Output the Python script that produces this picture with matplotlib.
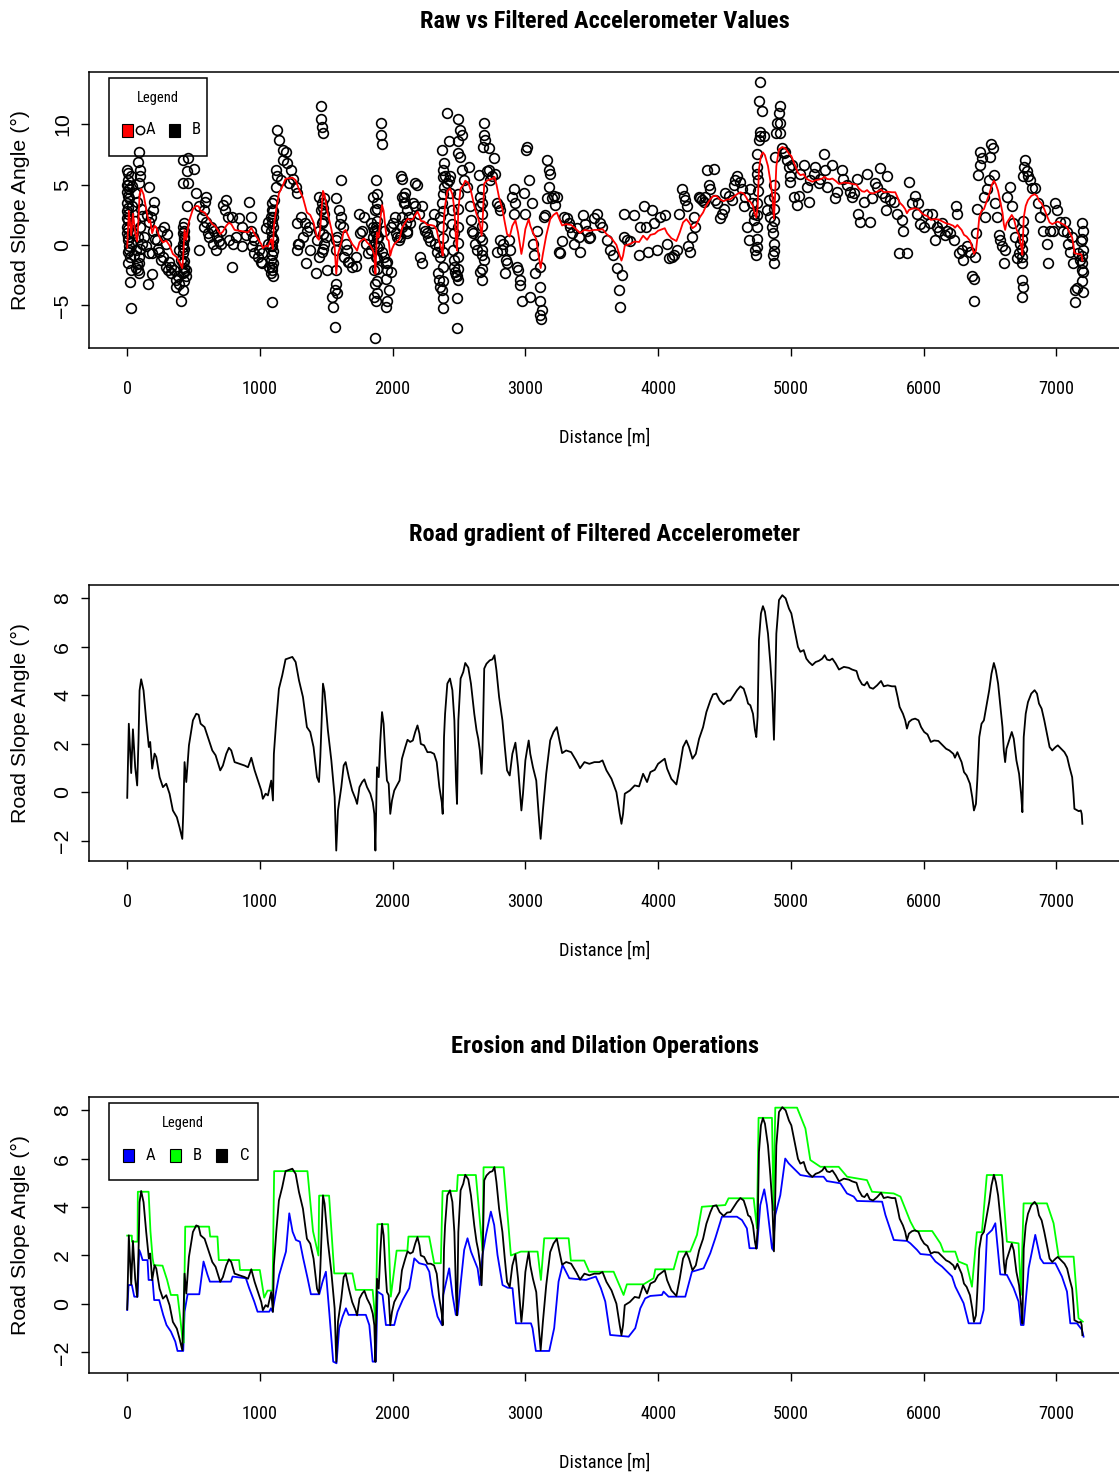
import numpy as np
import matplotlib
matplotlib.use("Agg")
import matplotlib.pyplot as plt
from matplotlib import font_manager
from matplotlib.patches import Rectangle

# filtered accelerometer slope along the route
dist = [0, 12, 30, 43, 60, 75, 85, 93, 105, 123, 143, 163, 173, 188, 206, 219, 244, 269, 294, 319,
        344, 374, 394, 415, 422, 432, 445, 465, 495, 520, 538, 553, 583, 608, 641, 666, 701, 721, 746, 766,
        784, 809, 847, 884, 910, 935, 960, 985, 1010, 1022, 1043, 1060, 1085, 1098, 1105, 1123, 1143, 1168, 1193, 1224,
        1244, 1269, 1294, 1324, 1354, 1379, 1404, 1430, 1445, 1455, 1475, 1487, 1512, 1538, 1563, 1575, 1588, 1613, 1631, 1646,
        1670, 1695, 1720, 1732, 1750, 1770, 1787, 1807, 1832, 1850, 1862, 1870, 1877, 1882, 1895, 1907, 1920, 1932, 1945, 1957,
        1970, 1982, 1995, 2012, 2032, 2052, 2070, 2095, 2112, 2132, 2152, 2170, 2187, 2202, 2212, 2237, 2262, 2287, 2312, 2332,
        2352, 2370, 2377, 2387, 2395, 2412, 2432, 2450, 2465, 2477, 2485, 2495, 2512, 2532, 2547, 2570, 2590, 2615, 2632, 2645,
        2657, 2670, 2677, 2690, 2707, 2732, 2752, 2767, 2782, 2802, 2827, 2845, 2862, 2882, 2902, 2925, 2945, 2970, 2982, 3000,
        3012, 3025, 3037, 3057, 3082, 3100, 3115, 3132, 3157, 3187, 3212, 3237, 3257, 3277, 3307, 3345, 3382, 3412, 3445, 3482,
        3520, 3557, 3581, 3611, 3649, 3686, 3711, 3724, 3736, 3749, 3787, 3824, 3857, 3887, 3917, 3942, 3975, 4000, 4033, 4050,
        4068, 4100, 4138, 4163, 4188, 4213, 4233, 4259, 4284, 4309, 4339, 4364, 4394, 4414, 4439, 4464, 4494, 4520, 4545, 4570,
        4595, 4620, 4645, 4665, 4678, 4695, 4715, 4730, 4740, 4750, 4760, 4775, 4790, 4805, 4828, 4846, 4861, 4873, 4881, 4891,
        4911, 4936, 4961, 4986, 5004, 5029, 5054, 5072, 5097, 5117, 5137, 5162, 5187, 5212, 5237, 5255, 5273, 5293, 5313, 5338,
        5363, 5400, 5437, 5462, 5495, 5512, 5537, 5555, 5575, 5595, 5620, 5650, 5680, 5700, 5730, 5762, 5787, 5805, 5820, 5845,
        5862, 5875, 5890, 5912, 5937, 5962, 5982, 6005, 6030, 6055, 6080, 6112, 6145, 6170, 6195, 6225, 6237, 6255, 6270, 6287,
        6305, 6325, 6350, 6367, 6380, 6395, 6405, 6420, 6437, 6455, 6475, 6495, 6512, 6530, 6545, 6562, 6580, 6595, 6605, 6615,
        6625, 6645, 6665, 6680, 6700, 6720, 6735, 6745, 6755, 6770, 6787, 6812, 6837, 6855, 6870, 6890, 6910, 6930, 6950, 6970,
        6995, 7012, 7037, 7062, 7082, 7100, 7120, 7130, 7137, 7150, 7170, 7185, 7192, 7197]
slope = [-0.22, 2.83, 0.8, 2.6, 1.04, 0.29, 2.14, 4.2, 4.66, 4.2, 2.97, 1.87, 2.08, 0.98, 1.6, 1.46, 0.63, 0.22, 0.36, -0.05,
         -0.74, -1.02, -1.43, -1.91, -0.88, 1.25, 0.43, 1.94, 2.97, 3.24, 3.2, 2.83, 2.69, 2.28, 1.73, 1.53, 0.91, 1.11, 1.59, 1.84,
         1.73, 1.25, 1.18, 1.11, 1.04, 1.43, 0.91, 0.49, 0.08, -0.26, -0.05, -0.12, 0.49, -0.33, 1.59, 2.97, 4.27, 4.82, 5.48, 5.54,
         5.58, 5.37, 4.62, 3.93, 2.69, 2.49, 1.87, 0.63, 0.43, 1.46, 4.48, 4.14, 2.56, 1.32, -0.19, -2.39, -0.74, 0.22, 1.11, 1.25,
         0.63, 0.08, -0.26, -0.47, 0.22, 0.43, 0.54, 0.22, -0.05, -0.4, -0.88, -2.39, -0.4, 1.04, 0.63, 2.14, 3.31, 2.83, 1.46, 0.49,
         0.36, -0.88, -0.33, 0.08, 0.29, 0.49, 1.39, 1.87, 2.17, 2.08, 2.14, 2.49, 2.76, 2.42, 2.0, 1.94, 1.66, 1.66, 1.59, 1.25,
         0.22, -0.4, -0.88, 2.28, 3.24, 4.48, 4.69, 4.21, 2.97, 0.49, -0.47, 2.97, 4.69, 4.96, 5.33, 5.14, 4.48, 3.24, 2.56, 2.21,
         1.73, 0.77, 1.73, 5.1, 5.3, 5.44, 5.48, 5.65, 5.03, 3.93, 2.97, 1.87, 0.91, 0.7, 1.59, 2.05, 1.04, -0.74, -0.05, 1.32,
         1.73, 2.14, 1.59, 1.04, 0.49, -0.88, -1.91, -0.74, 0.77, 2.14, 2.49, 2.69, 2.14, 1.62, 1.73, 1.66, 1.32, 1.0, 1.25, 1.18,
         1.25, 1.25, 1.32, 0.91, 0.56, 0.01, -0.88, -1.29, -0.88, -0.05, 0.08, 0.29, 0.25, 0.77, 0.43, 0.84, 0.93, 1.18, 1.32, 1.39,
         0.98, 0.56, 0.33, 1.04, 1.87, 2.14, 1.87, 1.39, 1.59, 2.21, 2.69, 3.31, 3.79, 4.04, 4.07, 3.79, 3.63, 3.77, 3.79, 4.0,
         4.21, 4.37, 4.27, 3.93, 3.66, 3.59, 3.24, 2.56, 2.28, 3.11, 6.27, 7.37, 7.67, 7.44, 6.54, 5.31, 4.07, 2.17, 3.93, 6.54,
         7.92, 8.12, 7.99, 7.57, 7.37, 6.68, 5.99, 5.79, 5.86, 5.51, 5.37, 5.24, 5.37, 5.42, 5.51, 5.65, 5.47, 5.44, 5.51, 5.31,
         5.06, 5.17, 5.13, 5.06, 5.0, 4.69, 4.45, 4.41, 4.55, 4.32, 4.27, 4.41, 4.59, 4.37, 4.41, 4.37, 4.37, 3.93, 3.52, 3.24,
         2.97, 2.63, 2.9, 3.0, 3.04, 2.97, 2.69, 2.49, 2.39, 2.08, 2.14, 2.12, 1.94, 1.8, 1.73, 1.59, 1.43, 1.66, 1.46, 1.25,
         0.84, 0.7, 0.36, -0.19, -0.74, -0.47, 0.49, 2.28, 2.83, 2.97, 3.59, 4.21, 4.89, 5.33, 5.03, 4.48, 3.52, 2.69, 1.73, 1.25,
         1.8, 2.14, 2.49, 2.21, 1.32, 0.77, -0.05, -0.81, 2.28, 3.24, 3.72, 4.07, 4.21, 4.07, 3.66, 3.45, 2.97, 2.42, 1.87, 1.73,
         1.87, 1.94, 1.8, 1.66, 1.46, 1.04, 0.63, -0.05, -0.67, -0.71, -0.77, -0.74, -0.88, -1.29]

# raw accelerometer readings
raw_dist = [0, 5, 10, 0, 5, 0, 3, 10, 20, 28,
            20, 28, 15, 8, 25, 35, 35, 40, 12, 30,
            0, 0, 90, 78, 95, 100, 85, 75, 110, 95,
            78, 110, 65, 90, 75, 92, 80, 90, 60, 55,
            50, 65, 105, 100, 161, 203, 191, 178, 166, 196,
            128, 141, 166, 186, 153, 185, 150, 210, 279, 254,
            228, 291, 241, 266, 254, 316, 291, 304, 329, 230,
            300, 329, 354, 379, 367, 367, 417, 404, 404, 417,
            442, 442, 392, 424, 424, 429, 429, 422, 422, 459,
            449, 457, 449, 417, 392, 424, 429, 417, 500, 517,
            542, 580, 587, 567, 593, 575, 605, 617, 643, 668,
            542, 590, 630, 655, 680, 688, 718, 743, 738, 756,
            705, 768, 705, 793, 793, 843, 863, 818, 800, 868,
            894, 931, 931, 919, 944, 959, 939, 957, 982, 994,
            1007, 1019, 1019, 1057, 1044, 1064, 1082, 1089, 1089, 1107,
            1120, 1132, 1120, 1157, 1170, 1177, 1132, 1140, 1094, 1089,
            1089, 1094, 1082, 1082, 1084, 1089, 1099, 1094, 1094, 1102,
            1070, 1195, 1207, 1232, 1220, 1250, 1270, 1282, 1277, 1290,
            1283, 1308, 1340, 1358, 1328, 1295, 1370, 1375, 1345, 1421,
            1446, 1433, 1446, 1446, 1458, 1458, 1463, 1471, 1476, 1483,
            1471, 1483, 1471, 1496, 1483, 1471, 1508, 1576, 1596, 1609,
            1601, 1626, 1584, 1576, 1571, 1571, 1571, 1566, 1584, 1546,
            1551, 1566, 1634, 1667, 1609, 1647, 1659, 1672, 1697, 1722,
            1722, 1752, 1772, 1747, 1785, 1797, 1835, 1817, 1877, 1860,
            1867, 1860, 1877, 1872, 1885, 1867, 1910, 1910, 1918, 1867,
            1850, 1835, 1850, 1850, 1860, 1862, 1872, 1877, 1893, 1898,
            1923, 1935, 1948, 1960, 1973, 1960, 1953, 1935, 1985, 2005,
            2018, 2023, 2036, 2048, 2061, 2073, 2093, 2086, 2073, 2098,
            2111, 1960, 1985, 1948, 2, 2, 2, 4742, 4744, 4746,
            4748, 4750, 4868, 4870, 4872, 6740, 6742, 6744, 420, 1086,
            2070, 2082, 2095, 2107, 2120, 2132, 2070, 2107, 2057, 2170,
            2183, 2157, 2170, 2195, 2220, 2233, 2245, 2258, 2270, 2283,
            2296, 2308, 2321, 2333, 2346, 2208, 2220, 2358, 2371, 2358,
            2371, 2384, 2396, 2384, 2378, 2409, 2421, 2429, 2434, 2371,
            2409, 2421, 2338, 2346, 2358, 2371, 2378, 2446, 2446, 2459,
            2454, 2459, 2464, 2471, 2479, 2484, 2489, 2484, 2484, 2496,
            2509, 2522, 2496, 2496, 2509, 2522, 2534, 2559, 2572, 2584,
            2589, 2597, 2609, 2622, 2634, 2647, 2660, 2672, 2660, 2672,
            2685, 2685, 2697, 2680, 2723, 2760, 2723, 2735, 2710, 2773,
            2660, 2672, 2685, 2660, 2672, 2748, 2785, 2798, 2810, 2785,
            2810, 2823, 2835, 2848, 2855, 2860, 2873, 2885, 2898, 2911,
            2923, 2916, 2936, 2948, 2961, 2973, 2961, 2986, 2999, 3011,
            3006, 3024, 3036, 3049, 3057, 3062, 3074, 3087, 3112, 3112,
            3124, 3117, 3107, 3112, 3137, 3150, 3162, 3175, 3188, 3175,
            3162, 3200, 3218, 3238, 3225, 3250, 3263, 3275, 3288, 3313,
            3326, 3338, 3351, 3363, 3388, 3401, 3413, 3433, 3451, 3464,
            3476, 3489, 3514, 3539, 3564, 3577, 3614, 3639, 3664, 3690,
            3702, 3715, 3727, 3740, 3745, 3765, 3790, 3815, 3853, 3866,
            3891, 3911, 3921, 3953, 3966, 3991, 4016, 4054, 4067, 4079,
            4104, 4117, 4142, 4154, 4179, 4192, 4205, 4217, 4222, 4242,
            4255, 4268, 4280, 4305, 4318, 4330, 4343, 4356, 4368, 4381,
            4393, 4418, 4431, 4444, 4469, 4481, 4494, 4506, 4531, 4556,
            4569, 4582, 4594, 4619, 4632, 4644, 4657, 4669, 4682, 4695,
            4707, 4720, 4725, 4732, 4740, 4745, 4750, 4757, 4765, 4770,
            4757, 4765, 4782, 4795, 4820, 4833, 4845, 4858, 4865, 4870,
            4875, 4883, 4890, 4895, 4908, 4915, 4920, 4920, 4933, 4946,
            4958, 4971, 4983, 4996, 4991, 5008, 5021, 5046, 5058, 5071,
            5096, 5121, 5134, 5146, 5172, 5184, 5209, 5222, 5247, 5259,
            5272, 5309, 5335, 5347, 5385, 5397, 5422, 5448, 5460, 5473,
            5498, 5510, 5523, 5548, 5574, 5598, 5611, 5636, 5649, 5674,
            5686, 5711, 5724, 5719, 5749, 5774, 5799, 5819, 5837, 5849,
            5874, 5894, 5912, 5937, 5950, 5962, 5975, 6000, 6025, 6050,
            6063, 6088, 6100, 6113, 6138, 6163, 6175, 6201, 6226, 6246,
            6251, 6264, 6289, 6301, 6327, 6352, 6364, 6377, 6377, 6389,
            6397, 6402, 6414, 6427, 6427, 6439, 6452, 6464, 6477, 6490,
            6502, 6509, 6522, 6532, 6540, 6552, 6565, 6578, 6590, 6603,
            6615, 6628, 6653, 6665, 6678, 6690, 6703, 6716, 6728, 6741,
            6741, 6745, 6753, 6758, 6765, 6778, 6790, 6803, 6815, 6840,
            6866, 6878, 6903, 6916, 6928, 6941, 6954, 6979, 6991, 7004,
            7029, 7054, 7067, 7079, 7092, 7104, 7117, 7129, 7142, 7142,
            7155, 7167, 7180, 7192, 7195, 7198, 7198, 7198, 7200, 7185,
            6, 6, 6, 6, 6, 6, 6, 6, 426, 426,
            426, 426, 426, 426, 1096, 1096, 1096, 1096, 1096, 1096,
            1478, 1478, 1478, 1478, 1882, 1882, 1882, 1882, 1882, 1882,
            1882, 1882, 1882, 2382, 2382, 2382, 2382, 2382, 2382, 2382,
            2382, 2490, 2490, 2490, 2490, 2490, 2490, 2676, 2676, 2676,
            2676, 2676, 4746, 4747, 4748, 4872, 4872, 4870, 6746, 6746,
            6748, 7196, 7196, 7197, 7197]
raw_slope = [6.2, 5.4, 4.6, 3.5, 2.6, 1.5, 0.7, -0.1, -1.0, -2.1,
             -3.1, -5.2, 3.9, 6.0, 5.7, 4.9, 3.2, 1.0, -0.4, 0.2,
             2.2, 4.4, 7.7, 6.9, 6.2, 5.7, 5.1, 3.6, 2.4, 1.5,
             0.7, 0.1, -0.4, -1.0, -1.6, -1.5, -2.1, -2.3, 4.3, 2.0,
             -0.8, -1.9, 3.0, -0.3, 4.8, 3.6, 2.9, 2.3, 1.9, 1.2,
             0.7, -0.1, -0.7, -0.7, -3.2, -2.4, 2.5, 0.5, 1.5, 1.2,
             0.4, 0.1, -0.6, -1.0, -1.2, -1.4, -1.8, -2.1, -2.3, -0.3,
             0.9, -1.8, -2.1, -2.6, -2.9, -3.5, -3.7, -4.6, -1.2, -1.5,
             -2.1, -2.6, -0.4, 0.1, 1.5, 1.8, 0.7, 7.0, 5.1, 5.1,
             6.1, 7.2, 3.2, 1.0, -3.2, -0.7, -1.9, -2.3, 6.3, 4.3,
             3.2, 2.9, 3.6, 2.3, 1.9, 1.5, 1.0, 0.7, 0.1, -0.4,
             -0.4, 4.0, 1.5, 1.2, 0.7, 0.3, 3.3, 3.7, 2.9, 2.3,
             1.2, 0.4, 0.1, -1.8, 2.3, 2.2, 1.5, 0.7, 0.1, -0.1,
             0.8, 1.2, 2.3, 3.6, 0.7, 0.4, -0.1, -0.7, -1.0, -0.4,
             -1.4, -1.5, -0.7, 0.1, 1.4, 1.9, 2.3, 2.9, 3.5, 3.7,
             4.8, 5.7, 6.2, 5.4, 7.0, 7.9, 9.5, 8.7, -4.7, -0.8,
             -1.8, -2.1, -1.2, -2.3, 1.2, 0.7, 0.4, -0.1, 1.8, 2.3,
             -1.8, 7.7, 6.8, 6.2, 5.1, 5.5, 4.8, 4.3, -0.4, 0.1,
             1.8, 2.3, 1.8, 1.2, 0.7, 0.1, 1.5, -0.4, -1.5, -2.3,
             -1.0, 0.4, 1.2, 4.0, 2.9, 11.5, 10.4, 9.8, 9.3, 3.9,
             3.5, 2.6, 1.8, 0.7, 0.1, -0.6, -2.1, 3.9, 2.9, 2.3,
             1.7, 1.5, 0.7, 0.4, -0.4, -2.1, -3.2, -3.7, -4.0, -4.3,
             -5.1, -6.8, -1.0, -1.4, 5.4, 0.1, -0.4, -1.4, -1.8, -1.7,
             -1.0, 1.0, 1.2, 2.6, 2.3, 0.1, -0.4, -0.7, -1.0, -2.1,
             -3.2, -4.3, -4.6, 5.4, 3.5, 2.9, 10.1, 9.1, 8.4, -7.7,
             4.0, 1.8, 1.5, 0.7, 0.1, 1.2, 1.0, 1.5, 0.7, -0.1,
             -0.6, -1.0, -1.5, -2.1, -3.7, -4.6, -5.1, 1.2, 1.5, 1.8,
             2.3, 1.0, 0.7, 0.4, 5.7, 4.0, 4.3, 3.5, 2.3, 1.8,
             1.2, -1.4, -2.2, -2.8, 1.0, 2.8, 5.0, 0.5, 1.5, 2.5,
             3.5, 4.5, 1.0, 2.0, 3.0, -1.0, -0.3, 0.5, -0.2, 0.0,
             5.5, 4.0, 3.5, 2.9, 2.3, 1.8, 1.5, 1.0, 0.7, 5.1,
             5.0, 3.5, 3.2, 2.6, 3.2, 1.5, 1.2, 1.0, 0.7, 0.3,
             1.8, 2.6, 0.1, -0.6, -0.1, -1.0, -1.5, -1.0, 1.5, 2.3,
             3.5, 4.8, 5.7, 6.8, 6.2, 5.1, 5.4, 5.7, 4.3, 7.9,
             10.9, 8.6, -2.3, -2.9, -3.5, -3.7, -5.2, 2.9, 1.7, 1.0,
             -0.4, -1.2, -1.8, -2.2, -2.5, -2.6, -2.9, -4.4, -6.9, 10.4,
             9.5, 9.1, 8.6, 7.6, 7.3, 6.2, 5.4, 4.8, 6.5, 3.2,
             2.1, 1.2, 1.0, 0.1, -0.4, 5.8, 4.0, 3.5, 3.2, 2.6,
             10.1, 9.1, 8.7, 8.1, 8.0, 7.2, 6.2, 5.4, 6.1, 5.9,
             0.7, -0.4, -1.2, -2.2, -2.9, 5.7, 3.5, 3.2, 2.9, -0.6,
             0.4, -0.4, 0.1, -2.3, -1.2, -1.5, 0.4, -0.4, 4.0, 4.6,
             3.5, 2.6, -1.8, -2.1, -2.9, -4.6, -3.3, 4.3, 2.6, 8.1,
             7.9, 5.4, -4.3, 3.5, 0.1, -0.8, -2.3, 1.2, -3.5, -4.6,
             -5.4, -6.1, -5.8, -1.8, 2.3, 2.5, 7.0, 6.2, 5.9, 4.8,
             3.9, 3.9, 4.1, 4.0, 3.3, -0.6, -0.7, 0.3, 2.3, 2.2,
             1.8, 1.5, 1.0, 0.1, 1.4, 0.7, -0.6, 2.5, 1.7, 1.2,
             0.6, 0.7, 2.2, 2.6, 1.8, 1.5, 0.4, -0.4, -0.8, -1.9,
             -3.7, -5.1, -2.5, 0.7, 2.6, 0.4, 0.3, 2.5, -0.8, 1.5,
             3.2, 1.5, -0.6, 2.9, 1.8, -0.4, 2.3, 2.5, 0.1, -1.1,
             -1.0, -0.8, -0.4, 2.6, 4.6, 4.1, 3.7, 3.2, -0.1, -0.6,
             0.7, 2.3, 1.5, 4.0, 3.9, 3.7, 3.6, 4.0, 6.2, 5.0,
             4.6, 6.3, 3.7, 3.5, 2.2, 2.6, 3.0, 4.3, 4.1, 3.7,
             5.0, 5.4, 5.7, 5.2, 4.6, 3.2, 4.0, 1.5, 0.4, 4.6,
             3.5, 2.6, 2.1, -0.4, -0.8, 5.9, 5.4, 8.7, 9.0, 9.4,
             11.9, 13.5, 11.1, 9.0, 2.9, 3.7, 2.3, 1.5, -0.8, 0.1,
             -1.5, 7.3, 9.3, 10.1, 10.9, 11.5, 9.3, 10.1, 8.0, 7.6,
             7.7, 7.0, 6.5, 5.7, 5.2, 6.6, 4.0, 3.3, 4.1, 5.9,
             6.6, 4.8, 3.6, 5.4, 5.9, 6.5, 5.1, 5.5, 7.5, 6.2,
             4.8, 6.6, 3.9, 4.4, 6.2, 5.5, 5.0, 4.4, 4.0, 4.3,
             5.5, 2.6, 1.9, 3.6, 5.9, 1.9, 3.9, 5.1, 4.8, 6.4,
             4.3, 4.0, 5.7, 2.9, 3.7, 3.6, 2.6, -0.7, 2.1, 1.2,
             -0.7, 5.2, 3.5, 4.1, 2.6, 3.5, 1.7, 1.5, 2.6, 1.8,
             2.6, 0.4, 1.5, 1.2, 1.8, 0.8, 1.2, 1.0, 0.4, 3.2,
             2.6, -0.7, -0.4, -1.2, -0.1, -0.6, -2.6, -2.8, -4.6, -1.0,
             1.0, 3.0, 5.8, 6.6, 7.7, 7.2, 4.0, 2.3, 4.6, 5.4,
             7.3, 8.4, 8.0, 5.8, 3.5, 2.3, 0.8, 0.4, -0.1, -1.5,
             -0.4, 4.0, 4.8, 3.2, 1.8, 0.7, -1.1, -0.7, 0.1, -1.5,
             -2.9, -4.3, 5.7, 6.5, 7.0, 6.1, 5.7, 5.4, 4.7, 4.7,
             3.5, 2.3, 1.2, 2.9, 0.1, -1.5, 1.2, 1.2, 3.5, 2.9,
             1.9, 1.2, 1.9, 1.1, 0.1, -0.6, 0.7, -1.5, -3.7, -4.7,
             -3.6, -0.7, -1.2, -2.1, 1.8, 1.2, -2.2, -3.9, -0.4, 0.3,
             -1.5, -0.6, 0.4, 1.3, 2.1, 3.1, 4.1, 5.0, -3.0, -2.2,
             -1.3, -0.3, 0.5, 1.2, -2.6, -1.5, -0.5, 0.5, 1.5, 2.8,
             -0.3, 0.9, 2.0, 3.1, -4.0, -3.0, -2.0, -1.1, -0.2, 0.6,
             2.0, 3.0, 4.2, -4.4, -3.0, -1.8, -0.6, 0.6, 2.8, 4.2,
             5.6, -2.0, -1.0, 0.2, 1.5, 3.0, 4.2, -2.0, -0.8, 0.4,
             1.6, 4.6, -0.2, 6.5, 7.5, 4.0, -0.5, 5.0, -3.5, 1.2,
             2.0, -1.5, -0.9, 0.5, -3.0]

# morphological erosion (lower envelope) of the filtered slope
ero_dist = [0, 10, 35, 53, 78, 90, 100, 116, 153, 161, 191, 203, 241, 271, 296, 329, 362, 379, 422, 432,
            455, 543, 575, 605, 623, 781, 794, 894, 919, 957, 982, 1070, 1083, 1095, 1108, 1145, 1196, 1221, 1246, 1271,
            1301, 1326, 1359, 1384, 1447, 1472, 1497, 1522, 1552, 1577, 1597, 1623, 1648, 1668, 1798, 1824, 1849, 1874, 1886, 1924,
            1949, 2012, 2037, 2075, 2125, 2163, 2200, 2250, 2276, 2301, 2338, 2371, 2381, 2426, 2451, 2476, 2489, 2514, 2539, 2564,
            2590, 2615, 2640, 2657, 2677, 2703, 2740, 2765, 2790, 2828, 2866, 2903, 2929, 3042, 3054, 3079, 3180, 3217, 3250, 3280,
            3331, 3456, 3531, 3569, 3602, 3639, 3778, 3828, 3866, 3903, 3941, 4029, 4041, 4079, 4205, 4255, 4343, 4393, 4431, 4481,
            4594, 4632, 4669, 4689, 4745, 4770, 4800, 4820, 4858, 4865, 4883, 4921, 4958, 4984, 5047, 5072, 5146, 5247, 5272, 5373,
            5423, 5474, 5499, 5688, 5713, 5776, 5876, 5901, 5951, 5977, 6052, 6090, 6140, 6215, 6240, 6302, 6340, 6428, 6453, 6478,
            6516, 6541, 6578, 6628, 6679, 6716, 6734, 6754, 6792, 6842, 6880, 6905, 6993, 7043, 7081, 7106, 7156, 7194, 7206]
ero_slope = [-0.25, 0.78, 0.78, 0.3, 0.3, 2.23, 2.1, 1.81, 1.81, 0.99, 0.99, 0.16, 0.16, -0.45, -0.87, -1.14, -1.55, -1.94, -1.94, -0.32,
             0.4, 0.4, 1.75, 1.2, 0.92, 0.92, 1.13, 1.06, 0.65, 0.1, -0.32, -0.32, -0.18, -0.32, 0.1, 1.2, 2.16, 3.74, 2.98, 2.64,
             2.57, 1.88, 1.06, 0.4, 0.4, 0.92, 1.33, -0.32, -2.38, -2.45, -1.0, -0.52, -0.18, -0.45, -0.45, -0.87, -2.38, -2.38, 0.51, 0.37,
             -0.87, -0.87, -0.32, 0.16, 0.65, 1.88, 1.68, 1.61, 1.33, 0.37, -0.52, -0.87, 0.37, 1.47, 0.37, -0.45, -0.45, 0.92, 2.23, 2.71,
             2.16, 1.81, 1.47, 0.78, 2.02, 2.85, 3.81, 3.26, 2.02, 0.78, 0.67, 0.65, -0.8, -0.8, -1.0, -1.94, -1.94, -1.0, 0.92, 1.61,
             1.06, 0.99, 1.13, 0.65, 0.1, -1.28, -1.35, -1.0, -0.18, 0.23, 0.33, 0.37, 0.51, 0.3, 0.3, 1.33, 1.47, 2.09, 2.71, 3.6,
             3.6, 3.46, 3.12, 2.3, 2.3, 4.08, 4.73, 4.08, 2.3, 2.23, 3.67, 4.49, 6.0, 5.8, 5.46, 5.32, 5.25, 5.25, 5.07, 4.98,
             4.56, 4.43, 4.25, 4.22, 3.67, 2.64, 2.6, 2.5, 2.23, 2.06, 2.02, 1.75, 1.54, 1.13, 0.71, 0.03, -0.8, -0.8, -0.25, 2.85,
             3.05, 3.33, 1.22, 1.2, 0.65, 0.1, -0.87, -0.87, 1.47, 2.85, 1.88, 1.68, 1.68, 1.13, 0.51, -0.8, -0.8, -1.07, -1.35]

# morphological dilation (upper envelope) of the filtered slope
dil_dist = [0, 35, 35, 78, 80, 161, 175, 191, 200, 266, 300, 329, 379, 400, 417, 425, 437, 617, 625, 680,
            690, 843, 850, 999, 1032, 1057, 1095, 1107, 1358, 1400, 1441, 1446, 1521, 1560, 1697, 1722, 1849, 1873, 1885, 1966,
            1986, 2030, 2111, 2119, 2275, 2313, 2363, 2376, 2484, 2491, 2627, 2677, 2685, 2836, 2891, 2966, 3092, 3117, 3142, 3326,
            3343, 3444, 3481, 3665, 3740, 3765, 3891, 3966, 3979, 4117, 4154, 4242, 4293, 4330, 4506, 4531, 4720, 4745, 4757, 4858,
            4870, 4883, 5047, 5110, 5147, 5223, 5361, 5424, 5574, 5612, 5775, 5826, 5901, 5939, 6065, 6127, 6151, 6239, 6264, 6327,
            6365, 6402, 6440, 6477, 6591, 6628, 6716, 6734, 6754, 6930, 6980, 7018, 7131, 7168, 7200]
dil_slope = [2.82, 2.82, 2.57, 2.57, 4.63, 4.63, 3.0, 1.9, 1.6, 1.58, 1.0, 0.37, 0.37, -0.6, -1.5, -1.6, 3.19, 3.19, 2.78, 2.78,
             1.81, 1.81, 1.4, 1.4, 0.26, 0.55, 0.55, 5.48, 5.48, 3.0, 2.0, 4.47, 4.47, 1.26, 1.26, 0.58, 0.58, -0.87, 3.29, 3.29,
             0.3, 2.2, 2.2, 2.78, 2.78, 1.68, 1.68, 4.66, 4.66, 5.32, 5.32, 2.2, 5.64, 5.64, 2.0, 2.16, 2.16, 0.99, 2.71, 2.71,
             1.79, 1.79, 1.33, 1.33, 0.37, 0.81, 0.81, 1.06, 1.43, 1.43, 2.16, 2.16, 2.85, 4.01, 4.08, 4.36, 4.36, 3.12, 7.68, 7.68,
             3.88, 8.1, 8.1, 7.24, 5.94, 5.66, 5.66, 5.25, 5.11, 4.63, 4.56, 4.43, 3.4, 3.01, 3.01, 2.5, 2.16, 2.16, 1.75, 1.61,
             0.71, 2.96, 2.96, 5.32, 5.32, 2.57, 2.5, 0.37, 4.15, 4.15, 3.33, 1.95, 1.95, -0.59, -0.73]

dist_ticks = [0, 1000, 2000, 3000, 4000, 5000, 6000, 7000]


def have_font(name, stretch='normal'):
    try:
        path = font_manager.findfont(font_manager.FontProperties(family=name, stretch=stretch),
                                     fallback_to_default=False)
    except ValueError:
        return None
    return path


def narrow_family():
    for fam in ['Liberation Sans Narrow', 'Arial Narrow', 'Roboto Condensed', 'Open Sans Condensed']:
        if have_font(fam):
            return dict(family=fam)
    path = have_font('DejaVu Sans', 'condensed')
    if path and 'Condensed' in path:
        return dict(family='DejaVu Sans', stretch='condensed')
    return dict(family='Liberation Sans')


NARROW = narrow_family()
PLAIN = dict(family='Liberation Sans')

W, H = 1119, 1477
AXW, AXH = 1032, 276

fig = plt.figure(figsize=(W / 100, H / 100), dpi=100)
renderer = fig.canvas.get_renderer()


def fitted_size(text, font, target_px, weight='normal', rotation=0):
    # font size that gives the text the wanted extent on the page
    probe = fig.text(0, 0, text, fontsize=20, fontweight=weight, rotation=rotation, **font)
    bb = probe.get_window_extent(renderer)
    probe.remove()
    span = bb.height if rotation else bb.width
    return 20 * target_px / span


FS_TITLE = fitted_size('Raw vs Filtered Accelerometer Values', NARROW, 368, 'bold')
FS_LAB = fitted_size('Distance [m]', NARROW, 91)
FS_TICK = fitted_size('1000', NARROW, 36)
FS_LEG = fitted_size('Legend', NARROW, 42)
FS_YLAB = fitted_size('Road Slope Angle (\u00b0)', PLAIN, 200, rotation=90)


def make_axes(top, title, ylim, yticks):
    ax = fig.add_axes([89 / W, 1 - (top + AXH) / H, AXW / W, AXH / H])
    ax.set_xlim(-288, 7488)
    ax.set_ylim(*ylim)
    ax.set_xticks(dist_ticks)
    ax.set_xticklabels([str(t) for t in dist_ticks], fontsize=FS_TICK, **NARROW)
    ax.set_yticks(yticks)
    ax.set_yticklabels([str(t).replace('-', '\u2212') for t in yticks], fontsize=FS_YLAB,
                       rotation=90, va='center', **PLAIN)
    ax.tick_params(axis='x', direction='out', length=6, width=1.0, pad=17)
    ax.tick_params(axis='y', direction='out', length=6, width=1.0, pad=6)
    for sp in ax.spines.values():
        sp.set_linewidth(1.1)
    ax.set_xlabel('Distance [m]', fontsize=FS_LAB, **NARROW)
    ax.xaxis.label.set_va('center')
    ax.xaxis.set_label_coords(0.5, -90 / AXH)
    ax.set_ylabel('Road Slope Angle (\u00b0)', fontsize=FS_YLAB, **PLAIN)
    ax.yaxis.label.set_va('center')
    ax.yaxis.set_label_coords(-69 / AXW, 0.5)
    ax.text(0.5, 1 + 51 / AXH, title, transform=ax.transAxes, ha='center', va='center',
            fontsize=FS_TITLE, fontweight='bold', **NARROW)
    return ax


def px(dx, dy):
    # offset in pixels from the top-left corner of the axes -> axes fraction
    return dx / AXW, 1 - dy / AXH


def legend_box(ax, x0, x1, y0, y1, title_x, items):
    bx, by = px(x0, y1)
    ax.add_patch(Rectangle((bx, by), (x1 - x0) / AXW, (y1 - y0) / AXH, transform=ax.transAxes,
                           fill=False, ec='black', lw=1.1, clip_on=False, zorder=5))
    tx, ty = px(title_x, 26)
    ax.text(tx, ty, 'Legend', transform=ax.transAxes, ha='center', va='center',
            fontsize=FS_LEG, zorder=5, **NARROW)
    for sq_x, color, lab_x, label in items:
        sx, sy = px(sq_x - 5.5, 58 + 6.5)
        ax.add_patch(Rectangle((sx, sy), 11 / AXW, 13 / AXH, transform=ax.transAxes,
                               fc=color, ec='black', lw=0.8, clip_on=False, zorder=5))
        lx, ly = px(lab_x, 58)
        ax.text(lx, ly, label, transform=ax.transAxes, ha='center', va='center',
                fontsize=FS_LEG * 1.15, zorder=5, **NARROW)


# panel 1: raw points with filtered curve
ax1 = make_axes(72, 'Raw vs Filtered Accelerometer Values', (-8.53, 14.33), [-5, 0, 5, 10])
ax1.plot(raw_dist, raw_slope, 'o', ms=7.0, mfc='none', mec='black', mew=1.2, zorder=2)
ax1.plot(dist, slope, color='red', lw=1.3, zorder=3)
legend_box(ax1, 20, 118, 6, 84, 69, [(38.5, 'red', 62, 'A'), (85, 'black', 107, 'B')])
cx, cy = px(51, 58)
ax1.plot([cx], [cy], 'o', transform=ax1.transAxes, ms=6.0, mfc='none', mec='black', mew=1.1,
         clip_on=False, zorder=5)

# panel 2: filtered gradient
ax2 = make_axes(585, 'Road gradient of Filtered Accelerometer', (-2.82, 8.54), [-2, 0, 2, 4, 6, 8])
ax2.plot(dist, slope, color='black', lw=1.3)

# panel 3: erosion / dilation envelopes
ax3 = make_axes(1097, 'Erosion and Dilation Operations', (-2.85, 8.54), [-2, 0, 2, 4, 6, 8])
ax3.plot(ero_dist, ero_slope, color='#0000FF', lw=1.3)
ax3.plot(dil_dist, dil_slope, color='#00FF00', lw=1.3)
ax3.plot(dist, slope, color='black', lw=1.3)
legend_box(ax3, 20, 169, 6, 83, 94, [(39, '#0000FF', 61, 'A'), (86, '#00FF00', 108, 'B'),
                                     (133, 'black', 156, 'C')])

fig.savefig('out.png', dpi=100)
